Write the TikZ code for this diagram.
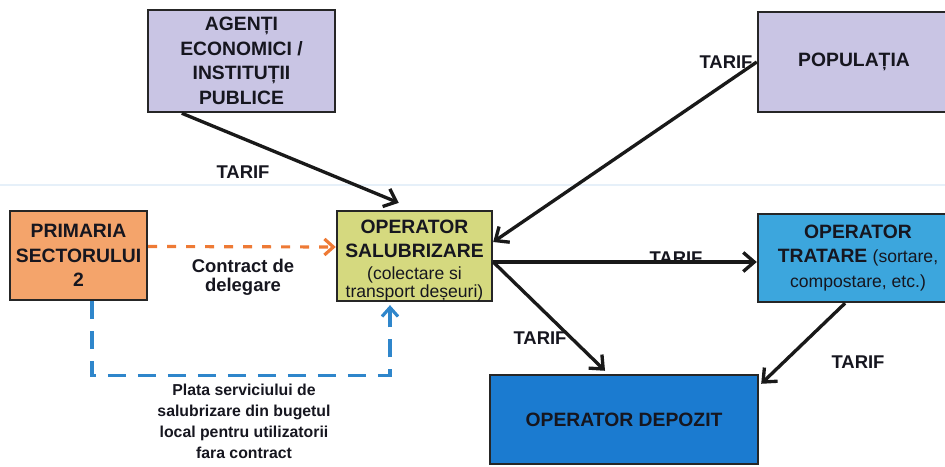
\documentclass[tikz,border=0pt]{standalone}
\usepackage{fontspec}
\setmainfont{Liberation Sans}
\usetikzlibrary{arrows.meta}

\definecolor{lavanda}{HTML}{C9C5E4}
\definecolor{portocaliu}{HTML}{F4A46B}
\definecolor{oliv}{HTML}{D5D97F}
\definecolor{albastru}{HTML}{3CA6DD}
\definecolor{albastruinchis}{HTML}{1B7BD0}
\definecolor{liniaor}{HTML}{EE7A35}
\definecolor{liniaal}{HTML}{2F86CB}
\definecolor{textul}{HTML}{16161F}

\tikzset{
    cutie/.style = {draw=black!85, line width=1.4pt, inner sep=0pt, align=center,
        text=textul, font=\bfseries\fontsize{11}{14}\selectfont},
    eticheta/.style = {text=textul, align=center, inner sep=0pt,
        font=\bfseries\fontsize{10.5}{11}\selectfont},
    sageata/.style = {-{Straight Barb[length=2.2mm,width=3.8mm]}, line width=1.9pt, black!90}
}
\newcommand{\paranteza}[1]{{\mdseries\fontsize{10}{14}\selectfont #1}}

\begin{document}
\begin{tikzpicture}[x=0.02cm, y=-0.02cm]
    \useasboundingbox (0,0) rectangle (945,466);
    \draw[color=liniaal!12, line width=0.6pt] (0,185) -- (945,185);

    \node[cutie, fill=lavanda, minimum width=3.74cm, minimum height=2.04cm] (agenti) at (241.5,61)
        {AGENȚI\\ECONOMICI /\\INSTITUȚII\\PUBLICE};
    \node[cutie, fill=lavanda, minimum width=3.84cm, minimum height=2.0cm] (populatia) at (854,62)
        {POPULAȚIA};
    \node[cutie, fill=portocaliu, minimum width=2.74cm, minimum height=1.78cm] (primaria) at (78.5,255.5)
        {PRIMARIA\\SECTORULUI\\2};
    \node[cutie, fill=oliv, minimum width=3.1cm, minimum height=1.76cm] (salub) at (414.5,256)
        {\rule{0pt}{12.5pt}OPERATOR\\SALUBRIZARE\\[-1.5pt]\paranteza{(colectare si}\\[-4pt]\paranteza{transport deșeuri)}};
    \node[cutie, fill=albastru, minimum width=4.0cm, minimum height=1.76cm] (tratare) at (858,258)
        {OPERATOR\\TRATARE \paranteza{(sortare,}\\\paranteza{compostare, etc.)}};
    \node[cutie, fill=albastruinchis, minimum width=5.36cm, minimum height=1.78cm] (depozit) at (624,419.5)
        {OPERATOR DEPOZIT};

    \node[eticheta] (tarif1) at (243,172) {TARIF};
    \node[eticheta] (tarif2) at (726,62) {TARIF};
    \node[eticheta] (tarif3) at (676,258) {TARIF};
    \node[eticheta] (tarif4) at (540,338) {TARIF};
    \node[eticheta] (tarif5) at (858,362) {TARIF};
    \node[eticheta] (contract) at (243,277) {Contract de\\delegare};
    \node[eticheta, font=\bfseries\fontsize{9}{12}\selectfont] (plata) at (244,421)
        {Plata serviciului de\\salubrizare din bugetul\\local pentru utilizatorii\\fara contract};

    \draw[sageata] ([xshift=0.7cm]agenti.south west) -- ([xshift=1.26cm,yshift=0.14cm]salub.north west);
    \draw[sageata] (populatia.west) -- ([yshift=0.28cm]salub.east);
    \draw[sageata] ([yshift=-0.12cm]salub.east) -- ([yshift=-0.12cm]salub.east -| tratare.west);
    \draw[sageata] ([yshift=-0.12cm]salub.east) -- ([xshift=-0.38cm,yshift=0.06cm]depozit.north);
    \draw[sageata] ([xshift=-0.26cm]tratare.south) -- ([xshift=0.04cm,yshift=-0.2cm]depozit.north east);

    \draw[-{Straight Barb[length=1.8mm,width=3.2mm]}, liniaor, line width=1.8pt, dash pattern=on 0.18cm off 0.2cm]
        ([yshift=0.18cm]primaria.east) -- ([yshift=0.18cm]salub.west);
    \draw[-{Straight Barb[length=1.8mm,width=3.2mm]}, liniaal, line width=1.8pt, dash pattern=on 0.36cm off 0.24cm]
        ([xshift=0.27cm]primaria.south) -- ++(0,-1.48cm) -| ([xshift=-0.49cm,yshift=-0.06cm]salub.south);
\end{tikzpicture}
\end{document}
